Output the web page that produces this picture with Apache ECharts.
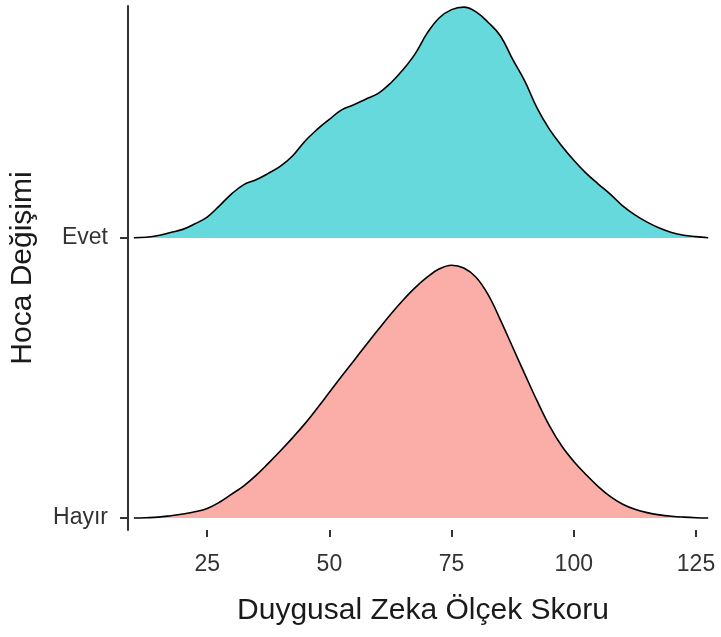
<!DOCTYPE html>
<html>
<head>
<meta charset="utf-8">
<script src="https://cdn.jsdelivr.net/npm/echarts@6/dist/echarts.min.js"></script>
<style>
html,body{margin:0;padding:0;background:#fff;}
#chart{width:721px;height:637px;}
</style>
</head>
<body>
<div id="chart"></div>
<script>
// Score grid (x values)
var scores = [10,12.5,15,17.5,20,22.5,25,27.5,30,32.5,35,37.5,40,42.5,45,47.5,50,52.5,55,57.5,60,62.5,65,67.5,70,72.5,75,77.5,80,82.5,85,87.5,90,92.5,95,97.5,100,102.5,105,107.5,110,112.5,115,117.5,120,122.5,125,127.5];
// Ridge heights (in units of row spacing)
var evet = [0.001,0.003,0.009,0.02,0.031,0.051,0.075,0.115,0.158,0.191,0.208,0.231,0.257,0.294,0.346,0.388,0.424,0.458,0.476,0.497,0.517,0.553,0.600,0.657,0.732,0.787,0.816,0.825,0.808,0.770,0.722,0.638,0.560,0.464,0.389,0.330,0.278,0.232,0.193,0.156,0.115,0.083,0.057,0.036,0.020,0.010,0.005,0.001];
var hayir = [0,0.001,0.003,0.008,0.014,0.022,0.034,0.056,0.085,0.115,0.152,0.195,0.24,0.287,0.337,0.392,0.449,0.506,0.562,0.618,0.673,0.727,0.777,0.822,0.86,0.89,0.903,0.893,0.86,0.797,0.707,0.61,0.513,0.418,0.33,0.258,0.202,0.155,0.112,0.076,0.049,0.031,0.019,0.011,0.006,0.003,0.001,0];
var categories = ['Hayır','Evet'];   // baselines at 1 and 2
var xTicks = [25,50,75,100,125];
var xTitle = 'Duygusal Zeka Ölçek Skoru';
var yTitle = 'Hoca Değişimi';

function ridge(arr, level){ return scores.map(function(x,i){ return [x, level + arr[i]]; }); }

var font = "'Liberation Sans', Arial, sans-serif";
var chart = echarts.init(document.getElementById('chart'));
chart.setOption({
  animation:false,
  backgroundColor:'#ffffff',
  grid:{left:128,right:3,top:6,bottom:107,containLabel:false},
  xAxis:{
    type:'value', min:8.8, max:129.5,
    name:xTitle, nameLocation:'middle', nameGap:66,
    nameTextStyle:{fontFamily:font,fontSize:30,color:'#1a1a1a'},
    axisLine:{show:false},
    axisTick:{show:true,customValues:xTicks,length:7,lineStyle:{color:'#333',width:2}},
    axisLabel:{customValues:xTicks,margin:23,fontFamily:font,fontSize:23,color:'#333'},
    splitLine:{show:false}
  },
  yAxis:{
    type:'value', min:0.957, max:2.829,
    name:yTitle, nameLocation:'middle', nameGap:90,
    nameTextStyle:{fontFamily:font,fontSize:30,color:'#1a1a1a'},
    axisLine:{show:true,lineStyle:{color:'#333',width:2}},
    axisTick:{show:true,customValues:[1,2],length:8,lineStyle:{color:'#333',width:2}},
    axisLabel:{customValues:[1,2],margin:20,fontFamily:font,fontSize:23,color:'#333',
      formatter:function(v){ return categories[Math.round(v)-1]; }},
    splitLine:{show:false}
  },
  series:[
    {type:'line',name:'Hayır',data:ridge(hayir,1),symbol:'none',smooth:0.4,
     lineStyle:{color:'#000',width:1.6},areaStyle:{color:'#FBADA7',opacity:1,origin:1},z:2},
    {type:'line',name:'Evet',data:ridge(evet,2),symbol:'none',smooth:0.4,
     lineStyle:{color:'#000',width:1.6},areaStyle:{color:'#66D9DC',opacity:1,origin:2},z:4}
  ]
});
</script>
</body>
</html>
